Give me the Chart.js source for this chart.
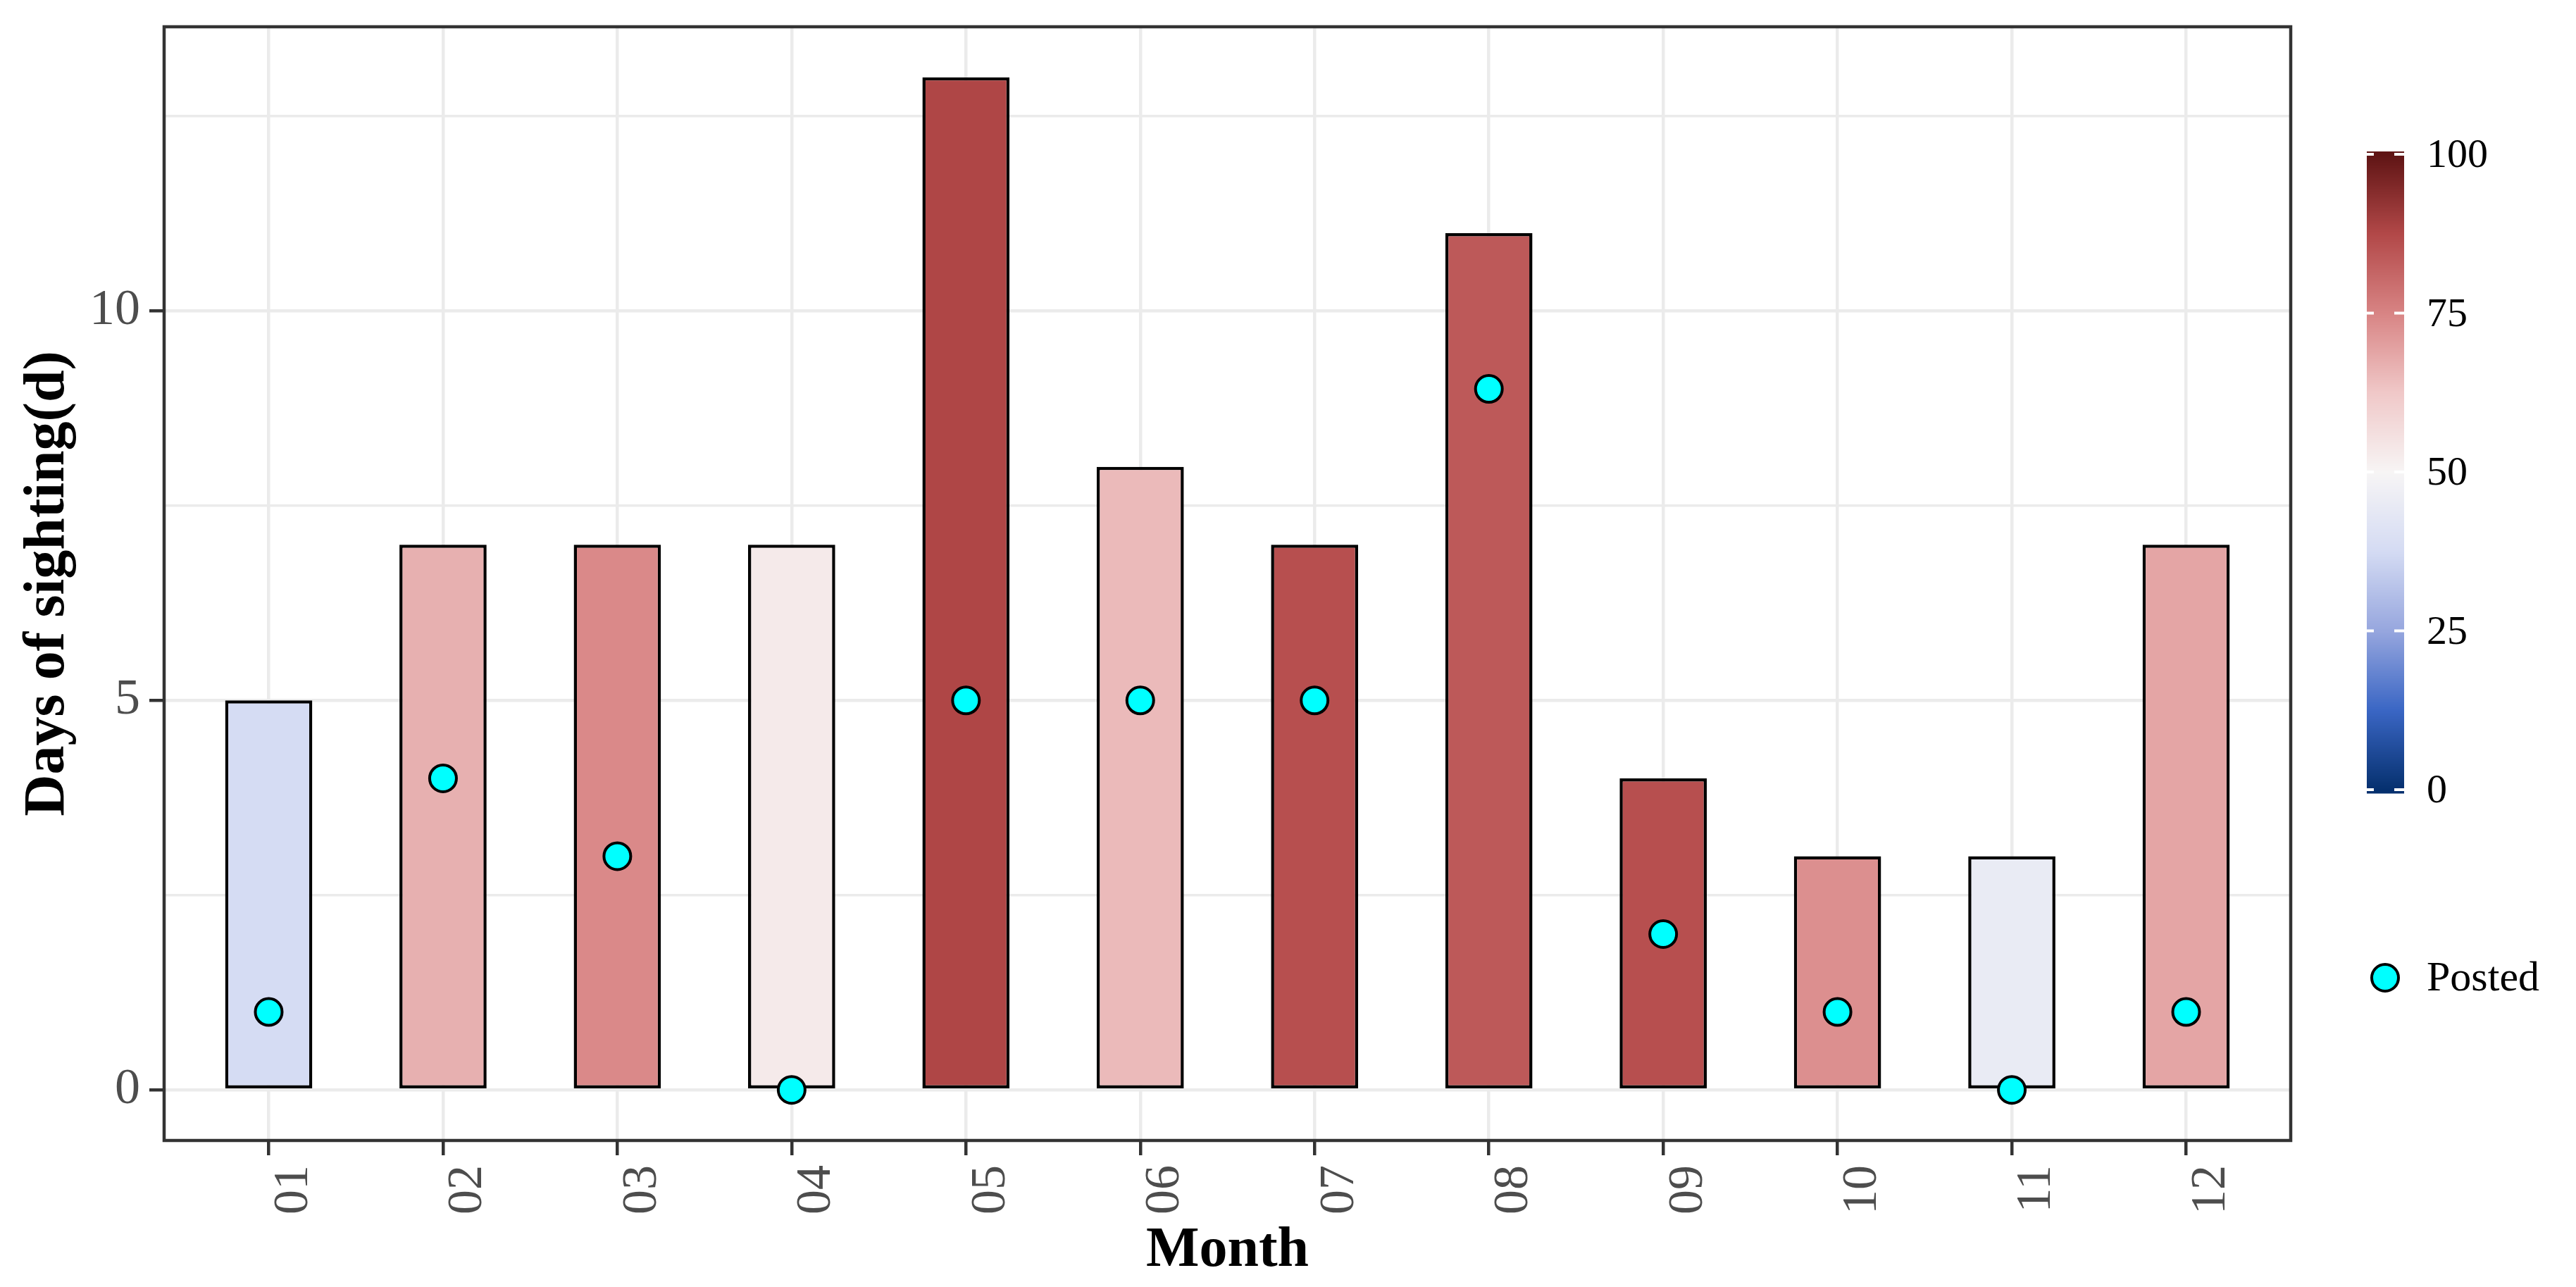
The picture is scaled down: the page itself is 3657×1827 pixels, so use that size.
<!DOCTYPE html>
<html>
<head>
<meta charset="utf-8">
<script src="https://cdn.jsdelivr.net/npm/chart.js@4.4.1/dist/chart.umd.min.js"></script>
<style>
  html, body { margin: 0; padding: 0; background: #ffffff; }
  #wrap { width: 3657px; height: 1827px; }
</style>
</head>
<body>
<div id="wrap"><canvas id="sightingChart" width="3657" height="1827"></canvas></div>
<script>
// data
const months = ['01', '02', '03', '04', '05', '06', '07', '08', '09', '10', '11', '12'];
const sightingDays = [5, 7, 7, 7, 13, 8, 7, 11, 4, 3, 3, 7];
const postedDays = [1, 4, 3, 0, 5, 5, 5, 9, 2, 1, 0, 1];
// fill value of each bar (0-100), estimated from its colour
const fillValues = [38, 67, 74, 53, 88, 65, 86, 84, 86, 73, 45, 69];
const yTickValues = [0, 2.5, 5, 7.5, 10, 12.5];
const legendTicks = [0, 25, 50, 75, 100];

// colour scale (value -> colour), sampled from the colourbar
const scaleStops = [0, 12.5, 25, 37.5, 50, 62.5, 75, 87.5, 100];
const scaleColours = ['#05306e', '#3a66c4', '#96a6de', '#d4dbf3', '#f7f5f5',
                      '#f0c8c8', '#d88484', '#b24848', '#5f1414'];

function hexToRgb(h) {
  return [parseInt(h.slice(1, 3), 16), parseInt(h.slice(3, 5), 16), parseInt(h.slice(5, 7), 16)];
}

function colourFor(v) {
  v = Math.max(0, Math.min(100, v));
  let i = 0;
  while (i < scaleStops.length - 2 && v > scaleStops[i + 1]) i++;
  const t = (v - scaleStops[i]) / (scaleStops[i + 1] - scaleStops[i]);
  const a = hexToRgb(scaleColours[i]);
  const b = hexToRgb(scaleColours[i + 1]);
  const c = a.map((x, k) => Math.round(x + (b[k] - x) * t));
  return `rgb(${c[0]},${c[1]},${c[2]})`;
}

const serif = "'Liberation Serif', 'Times New Roman', serif";

// panel border + legend on the right
const extrasPlugin = {
  id: 'extras',
  afterDatasetsDraw(chart) {
    const { ctx, chartArea } = chart;
    ctx.save();
    ctx.strokeStyle = '#333333';
    ctx.lineWidth = 4.5;
    ctx.strokeRect(chartArea.left, chartArea.top,
      chartArea.right - chartArea.left, chartArea.bottom - chartArea.top);
    ctx.restore();
  },
  afterDraw(chart) {
    const ctx = chart.ctx;
    const barLeft = 3360, barRight = 3413;
    const yTop = 219, yBottom = 1121;
    const yOf = v => yBottom - (yBottom - yTop) * v / 100;
    ctx.save();
    // colourbar
    for (let y = yTop - 4; y <= yBottom + 4; y++) {
      const v = (yBottom - y) / (yBottom - yTop) * 100;
      ctx.fillStyle = colourFor(v);
      ctx.fillRect(barLeft, y, barRight - barLeft, 1.5);
    }
    ctx.strokeStyle = '#ffffff';
    ctx.lineWidth = 4;
    ctx.font = `58px ${serif}`;
    ctx.fillStyle = '#000000';
    ctx.textAlign = 'left';
    ctx.textBaseline = 'middle';
    legendTicks.forEach(v => {
      const y = yOf(v);
      ctx.beginPath();
      ctx.moveTo(barLeft, y); ctx.lineTo(barLeft + 10, y);
      ctx.moveTo(barRight - 14, y); ctx.lineTo(barRight, y);
      ctx.stroke();
      ctx.fillText(String(v), 3445, y + 3);
    });
    // "Posted" key
    const ds = chart.data.datasets[0];
    ctx.beginPath();
    ctx.arc(3386, 1388, 19, 0, Math.PI * 2);
    ctx.fillStyle = ds.backgroundColor;
    ctx.fill();
    ctx.lineWidth = 4;
    ctx.strokeStyle = ds.borderColor;
    ctx.stroke();
    ctx.font = `60px ${serif}`;
    ctx.fillStyle = '#000000';
    ctx.fillText(ds.label, 3445, 1390);
    ctx.restore();
  }
};

new Chart(document.getElementById('sightingChart'), {
  type: 'bar',
  data: {
    datasets: [
      {
        type: 'scatter',
        label: 'Posted',
        data: postedDays.map((v, i) => ({ x: i + 1, y: v })),
        backgroundColor: '#00ffff',
        borderColor: '#000000',
        borderWidth: 4,
        pointRadius: 19,
        pointHoverRadius: 19,
        order: 0
      },
      {
        label: 'Sighting',
        data: sightingDays.map((v, i) => ({ x: i + 1, y: v })),
        backgroundColor: fillValues.map(colourFor),
        borderColor: '#000000',
        borderWidth: 4.5,
        borderSkipped: false,
        barPercentage: 0.5,
        categoryPercentage: 1.0,
        order: 1
      }
    ]
  },
  options: {
    responsive: false,
    animation: false,
    devicePixelRatio: 1,
    layout: { padding: { left: 0, top: 38, right: 405, bottom: 0 } },
    plugins: {
      legend: { display: false },
      tooltip: { enabled: false }
    },
    scales: {
      x: {
        type: 'linear',
        min: 0.4,
        max: 12.6,
        offset: false,
        afterBuildTicks: scale => { scale.ticks = months.map((m, i) => ({ value: i + 1 })); },
        afterFit: scale => { scale.height = 208; scale.paddingLeft = 0; scale.paddingRight = 0; },
        grid: {
          offset: false,
          color: '#ebebeb',
          lineWidth: 4.5,
          tickLength: 21,
          tickColor: '#333333',
          tickWidth: 4.5
        },
        border: { display: false },
        ticks: {
          autoSkip: false,
          minRotation: 90,
          maxRotation: 90,
          padding: 14,
          labelOffset: 36,
          color: '#4d4d4d',
          font: { family: serif, size: 70 },
          callback: v => months[v - 1]
        },
        title: {
          display: true,
          text: 'Month',
          color: '#000000',
          font: { family: serif, size: 80, weight: 'bold', lineHeight: 1 },
          padding: { top: 0, bottom: 11 }
        }
      },
      y: {
        min: -0.65,
        max: 13.65,
        afterBuildTicks: scale => { scale.ticks = yTickValues.map(v => ({ value: v })); },
        afterFit: scale => { scale.width = 233; scale.paddingTop = 0; scale.paddingBottom = 0; },
        grid: {
          color: '#ebebeb',
          lineWidth: c => (c.tick && c.tick.value % 5 === 0 ? 4.5 : 3.5),
          tickLength: 21,
          tickColor: c => (c.tick && c.tick.value % 5 === 0 ? '#333333' : 'rgba(0,0,0,0)'),
          tickWidth: 4.5
        },
        border: { display: false },
        ticks: {
          padding: 13,
          color: '#4d4d4d',
          font: { family: serif, size: 72 },
          callback: v => (v % 5 === 0 ? String(v) : '')
        },
        title: {
          display: true,
          text: 'Days of sighting(d)',
          color: '#000000',
          font: { family: serif, size: 82, weight: 'bold', lineHeight: 1 },
          padding: { top: 28, bottom: 0 }
        }
      }
    }
  },
  plugins: [extrasPlugin]
});
</script>
</body>
</html>
